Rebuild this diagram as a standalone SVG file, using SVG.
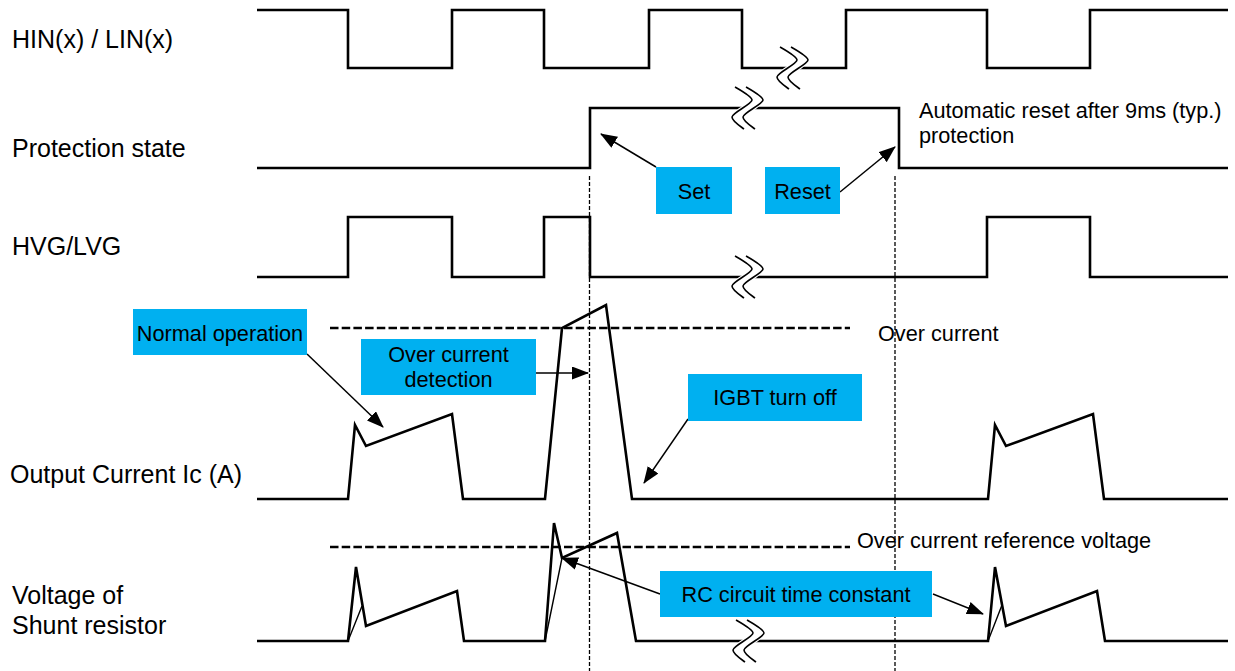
<svg xmlns="http://www.w3.org/2000/svg" width="1235" height="671" viewBox="0 0 1235 671">
<style>
  .lbl{font-family:"Liberation Sans",Arial,sans-serif;font-size:25px;fill:#000}
  .ann{font-family:"Liberation Sans",Arial,sans-serif;font-size:21.7px;fill:#000}
  .ctr{text-anchor:middle}
  .wave{fill:none;stroke:#000;stroke-width:2.6;stroke-linejoin:miter}
  .thin{fill:none;stroke:#000;stroke-width:1.4}
  .hdash{fill:none;stroke:#000;stroke-width:2.5;stroke-dasharray:8.5 3.2}
  .vdash{fill:none;stroke:#000;stroke-width:1.3;stroke-dasharray:4 2}
  .box{fill:#00B0F0}
  .arrow{fill:none;stroke:#000;stroke-width:1.5;marker-end:url(#ah)}
  .brk{fill:none;stroke:#000;stroke-width:1.6}
</style>
<defs>
  <marker id="ah" viewBox="0 0 17 13" refX="16" refY="6.5" markerWidth="17" markerHeight="13" markerUnits="userSpaceOnUse" orient="auto">
    <path d="M0,0 L17,6.5 L0,13 Z" fill="#000"/>
  </marker>
  <g id="brk">
    <path d="M-13,-21 C-6,-17 4,-11 4,-8 C4,-4 -16,5 -16,9 C-16,13 -8,18 -4,21" transform="translate(5.5,0)" stroke="#fff" stroke-width="10" fill="none"/>
    <path class="brk" d="M-13,-21 C-6,-17 4,-11 4,-8 C4,-4 -16,5 -16,9 C-16,13 -8,18 -4,21"/>
    <path class="brk" d="M-13,-21 C-6,-17 4,-11 4,-8 C4,-4 -16,5 -16,9 C-16,13 -8,18 -4,21" transform="translate(11,0)"/>
  </g>
</defs>
<rect width="1235" height="671" fill="#fff"/>

<g id="guides">
  <line class="vdash" x1="589.5" y1="176" x2="589.5" y2="671"/>
  <line class="vdash" x1="895" y1="176" x2="895" y2="671"/>
  <line class="hdash" x1="330" y1="328" x2="850" y2="328"/>
  <line class="hdash" x1="330" y1="547" x2="850" y2="547"/>
  <text class="ann" x="878" y="341">Over current</text>
  <text class="ann" x="857" y="548">Over current reference voltage</text>
</g>

<g id="row-hin">
  <text class="lbl" x="12" y="48">HIN(x) / LIN(x)</text>
  <path class="wave" d="M257,10 H348 V68 H452 V10 H544 V68 H649 V10 H742 V68 H846 V10 H987 V68 H1090 V10 H1228"/>
  <use href="#brk" x="793" y="68"/>
</g>

<g id="row-protection">
  <text class="lbl" x="12" y="157">Protection state</text>
  <path class="wave" d="M257,168 H590 V108 H899 V168 H1228"/>
  <use href="#brk" x="748" y="108"/>
  <text class="ann" x="919" y="118">Automatic reset after 9ms (typ.)</text>
  <text class="ann" x="919" y="143">protection</text>
</g>

<g id="row-hvg">
  <text class="lbl" x="12" y="255">HVG/LVG</text>
  <path class="wave" d="M257,277 H348 V217 H452 V277 H544 V217 H590 V277 H987 V217 H1090 V277 H1228"/>
  <use href="#brk" x="748" y="277"/>
</g>

<g id="row-current">
  <text class="lbl" x="10" y="483">Output Current Ic (A)</text>
  <path class="wave" d="M257,499 H348 L355,425 L366,446 L452,414 L463,499 H545 L562,328 L606,305 L632,499 H988 L995,425 L1006,446 L1093,414 L1104,499 H1228"/>
</g>

<g id="row-voltage">
  <text class="lbl" x="12" y="604">Voltage of</text>
  <text class="lbl" x="12" y="634">Shunt resistor</text>
  <path class="wave" d="M257,641 H348 L356,567 L366,626 L457,591 L464,641 H545 L554,523 L562,558 L617,533 L636,641 H988 L995,567 L1006,626 L1097,591 L1105,641 H1228"/>
  <path class="thin" d="M348,641 L362,606 M545,641 L562,558 M988,641 L1002,605"/>
  <use href="#brk" x="749" y="641"/>
</g>

<g id="connectors">
  <line class="arrow" x1="656" y1="167" x2="601" y2="134"/>
  <line class="arrow" x1="840" y1="192" x2="895" y2="147"/>
  <line class="arrow" x1="307" y1="354" x2="383" y2="427"/>
  <line class="arrow" x1="536" y1="373" x2="588" y2="373"/>
  <line class="arrow" x1="688" y1="419" x2="644" y2="483"/>
  <line class="arrow" x1="660" y1="594" x2="562" y2="558"/>
  <line class="arrow" x1="933" y1="594" x2="983" y2="614"/>
</g>

<g id="node-set">
  <rect class="box" x="656" y="167" width="76" height="47"/>
  <text class="ann ctr" x="694" y="199">Set</text>
</g>
<g id="node-reset">
  <rect class="box" x="765" y="167" width="75" height="47"/>
  <text class="ann ctr" x="802.5" y="199">Reset</text>
</g>
<g id="node-normal">
  <rect class="box" x="133" y="309" width="174" height="46"/>
  <text class="ann ctr" x="220" y="341">Normal operation</text>
</g>
<g id="node-ocd">
  <rect class="box" x="361" y="339" width="175" height="56"/>
  <text class="ann ctr" x="448.5" y="362">Over current</text>
  <text class="ann ctr" x="448.5" y="387">detection</text>
</g>
<g id="node-igbt">
  <rect class="box" x="688" y="374" width="174" height="47"/>
  <text class="ann ctr" x="775" y="405">IGBT turn off</text>
</g>
<g id="node-rc">
  <rect class="box" x="660" y="571" width="272" height="46"/>
  <text class="ann ctr" x="796" y="602">RC circuit time constant</text>
</g>
</svg>
